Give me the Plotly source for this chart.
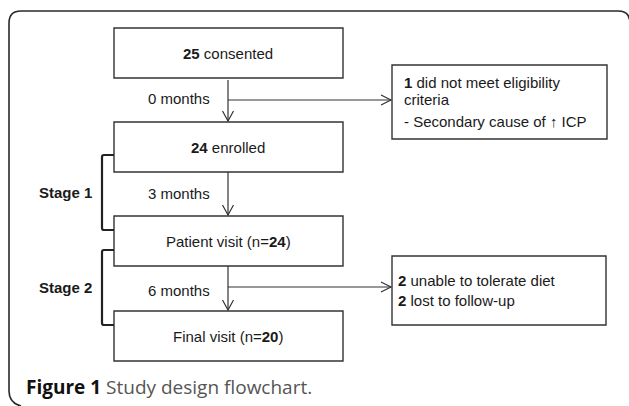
import plotly.graph_objects as go

# ---- content (data) ----
main_counts = [25, 24, 24, 20]
main_labels = ["<b>{n}</b> consented", "<b>{n}</b> enrolled",
               "Patient visit (n=<b>{n}</b>)", "Final visit (n=<b>{n}</b>)"]
intervals = ["0 months", "3 months", "6 months"]
stages = ["Stage 1", "Stage 2"]
excl_lines_1 = ["<b>1</b> did not meet eligibility", "criteria", "- Secondary cause of \u2191 ICP"]
excl_lines_2 = ["<b>2</b> unable to tolerate diet", "<b>2</b> lost to follow-up"]
caption_bold = "Figure 1"
caption_rest = " Study design flowchart."

# ---- layout geometry (pixels) ----
W, H = 629, 406
box_x0, box_x1 = 114, 343
box_y = [(28, 78), (122, 172), (216, 266), (311, 361)]
cx = 228
excl_boxes = [(392, 65, 607, 139), (392, 256, 606, 325)]
branch_y = [100, 287]
bracket_x = 102
bracket_y = [(155, 230), (250, 325)]

LINE = "#333333"
TXT = "#1a1a1a"
FONT = "Liberation Sans, Arial, sans-serif"
FS = 15

shapes = []
ann = []

# outer frame (left, top, rounded corners)
r = 12
frame = (f"M {W+1},{32} L {W+1},{11+r} Q {W+1},11 {W+1-r},11 "
         f"L {9+r},11 Q 9,11 9,{11+r} L 9,{403-r} Q 9,403 {9+r},406")
shapes.append(dict(type="path", path=frame, xref="x", yref="y",
                   line=dict(color="#2a2a2a", width=1.6)))

# main boxes
for i, (y0, y1) in enumerate(box_y):
    shapes.append(dict(type="rect", xref="x", yref="y", x0=box_x0, x1=box_x1,
                       y0=y0, y1=y1, line=dict(color=LINE, width=1.4)))
    ann.append(dict(x=cx, y=(y0 + y1) / 2, text=main_labels[i].format(n=main_counts[i]),
                    showarrow=False, xanchor="center", yanchor="middle",
                    font=dict(family=FONT, size=FS, color=TXT)))

# vertical arrows with labels
for i in range(3):
    ya = box_y[i][1] + (2 if i == 0 else 0)
    yb = box_y[i + 1][0] - 1
    shapes.append(dict(type="line", xref="x", yref="y", x0=cx, x1=cx, y0=ya, y1=yb,
                       line=dict(color=LINE, width=1.2)))
    shapes.append(dict(type="path", xref="x", yref="y",
                       path=f"M {cx-5.5},{yb-10} L {cx},{yb} L {cx+5.5},{yb-10}",
                       line=dict(color=LINE, width=1.2)))
    ly = [98, 193, 290][i]
    ann.append(dict(x=212, y=ly, text=intervals[i], showarrow=False,
                    xanchor="right", yanchor="middle",
                    font=dict(family=FONT, size=FS, color=TXT)))

# branch arrows and exclusion boxes
for k, (bx0, by0, bx1, by1) in enumerate(excl_boxes):
    yb = branch_y[k]
    shapes.append(dict(type="line", xref="x", yref="y", x0=cx, x1=bx0 - 1, y0=yb, y1=yb,
                       line=dict(color=LINE, width=1.2)))
    shapes.append(dict(type="path", xref="x", yref="y",
                       path=f"M {bx0-11},{yb-5} L {bx0-1},{yb} L {bx0-11},{yb+5}",
                       line=dict(color=LINE, width=1.2)))
    shapes.append(dict(type="rect", xref="x", yref="y", x0=bx0, x1=bx1, y0=by0, y1=by1,
                       line=dict(color=LINE, width=1.4)))

for line, y in zip(excl_lines_1, [82, 99, 121]):
    ann.append(dict(x=402, y=y, text=line, showarrow=False, xanchor="left", yanchor="middle",
                    font=dict(family=FONT, size=FS, color=TXT)))
for line, y in zip(excl_lines_2, [280, 300]):
    ann.append(dict(x=396, y=y, text=line, showarrow=False, xanchor="left", yanchor="middle",
                    font=dict(family=FONT, size=FS, color=TXT)))

# stage brackets
for k, (y0, y1) in enumerate(bracket_y):
    shapes.append(dict(type="path", xref="x", yref="y",
                       path=f"M {box_x0},{y0} L {bracket_x+2},{y0} Q {bracket_x},{y0} {bracket_x},{y0+2} "
                            f"L {bracket_x},{y1-2} Q {bracket_x},{y1} {bracket_x+2},{y1} L {box_x0},{y1}",
                       line=dict(color="#222222", width=2.2)))
    ann.append(dict(x=65, y=[192, 287][k], text=f"<b>{stages[k]}</b>", showarrow=False,
                    xanchor="center", yanchor="middle",
                    font=dict(family=FONT, size=FS, color=TXT)))

# caption
ann.append(dict(x=24, y=387, text=f"<b>{caption_bold}</b><span style='color:#555555'>{caption_rest}</span>",
                showarrow=False, xanchor="left", yanchor="middle",
                font=dict(family="Open Sans, sans-serif", size=19, color="#111111")))

fig = go.Figure()
fig.update_layout(
    width=W, height=H, margin=dict(l=0, r=0, t=0, b=0),
    paper_bgcolor="white", plot_bgcolor="white",
    xaxis=dict(range=[0, W], visible=False, fixedrange=True),
    yaxis=dict(range=[H, 0], visible=False, fixedrange=True),
    shapes=shapes, annotations=ann, showlegend=False,
)
fig.write_html("out.html", config={"displayModeBar": False},
               post_script="document.body.style.margin='0';document.body.style.overflow='hidden';")
